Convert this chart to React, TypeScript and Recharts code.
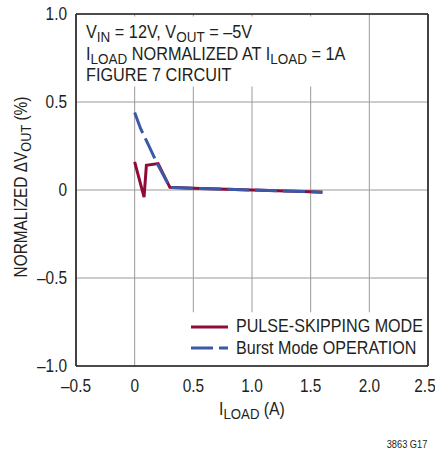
import React from 'react'
import { LineChart, Line, XAxis, YAxis, CartesianGrid, ReferenceArea, ReferenceLine, Legend } from 'recharts'

const xTicks = [-0.5, 0, 0.5, 1, 1.5, 2, 2.5]
const xTickLabels = ['–0.5', '0', '0.5', '1.0', '1.5', '2.0', '2.5']
const yTicks = [-1, -0.5, 0, 0.5, 1]
const yTickLabels = ['–1.0', '–0.5', '0', '0.5', '1.0']

const pulseLoad = [0, 0.08, 0.1, 0.2, 0.3, 0.5, 1.0, 1.5, 1.6]
const pulseDv = [0.16, -0.04, 0.14, 0.15, 0.015, 0.01, 0, -0.01, -0.013]
const burstLoad = [0, 0.05, 0.1, 0.2, 0.3, 0.5, 1.0, 1.5, 1.6]
const burstDv = [0.44, 0.35, 0.28, 0.14, 0.015, 0.01, 0, -0.01, -0.013]

const seriesNames = ['PULSE-SKIPPING MODE', 'Burst Mode OPERATION']

const pulseData = pulseLoad.map((x, i) => ({ x, y: pulseDv[i] }))
const burstData = burstLoad.map((x, i) => ({ x, y: burstDv[i] }))

// Liberation Sans squeezed sideways to look like the condensed face of the original
const FONT = '"Liberation Sans", Arial, sans-serif'
const INK = '#231f20'
const RED = '#8e0c36'
const BLUE = '#3c59a8'

// parts: plain strings, or [string] for a subscript
const CText = ({ x, y, size = 17.5, sub = 14.5, squeeze = 0.88, anchor = 'start', rotate = 0, parts }: any) => {
  let down = false
  return (
    <text transform={`translate(${x},${y}) rotate(${rotate}) scale(${squeeze},1)`} textAnchor={anchor}
      fontSize={size} fontFamily={FONT} fill={INK}>
      {parts.map((p: any, i: number) => {
        const isSub = Array.isArray(p)
        const dy = isSub === down ? 0 : isSub ? 4 : -4
        down = isSub
        return (
          <tspan key={i} dy={dy} fontSize={isSub ? sub : size}>
            {isSub ? p[0] : p}
          </tspan>
        )
      })}
    </text>
  )
}

const XTick = (props: any) => {
  const i = xTicks.indexOf(props.payload.value)
  return <CText x={props.x} y={props.y + 26} anchor="middle" parts={[xTickLabels[i]]} />
}

const YTick = (props: any) => {
  const i = yTicks.indexOf(props.payload.value)
  return <CText x={props.x - 9} y={props.y + 6} anchor="end" parts={[yTickLabels[i]]} />
}

const LegendBox = (props: any) => {
  const items = [...props.payload].sort((a: any, b: any) => seriesNames.indexOf(a.value) - seriesNames.indexOf(b.value))
  return (
    <div style={{ fontFamily: FONT, fontSize: 17.5, color: INK }}>
      {items.map((p: any) => (
        <div key={p.value} style={{ display: 'flex', alignItems: 'center', height: 21.6, whiteSpace: 'nowrap' }}>
          <svg width={45} height={8} style={{ flex: 'none' }}>
            <line x1={0} x2={37} y1={4} y2={4} stroke={p.color} strokeWidth={3}
              strokeDasharray={p.payload.strokeDasharray} />
          </svg>
          <span style={{ display: 'inline-block', lineHeight: '21px', transform: 'scaleX(0.92)', transformOrigin: 'left center' }}>
            {p.value}
          </span>
        </div>
      ))}
    </div>
  )
}

export default function App() {
  return (
    <div style={{ position: 'absolute', left: 0, top: 0, width: 435, height: 451, background: '#fff' }}>
      <LineChart width={435} height={451} margin={{ top: 14, right: 7, bottom: 55, left: 36 }}>
        <CartesianGrid stroke="#9a9a9a" strokeWidth={1} />
        <XAxis type="number" dataKey="x" domain={[-0.5, 2.5]} ticks={xTicks} allowDataOverflow
          axisLine={false} tickLine={false} tickSize={0} tickMargin={0} height={30} tick={<XTick />} />
        <YAxis type="number" dataKey="y" domain={[-1, 1]} ticks={yTicks} allowDataOverflow
          axisLine={false} tickLine={false} tickSize={0} tickMargin={0} width={40} tick={<YTick />} />
        <ReferenceArea x1={-0.49} x2={1.98} y1={0.588} y2={0.986} fill="#fff" fillOpacity={1} stroke="none" />
        <ReferenceArea x1={0.47} x2={2.49} y1={-0.995} y2={-0.695} fill="#fff" fillOpacity={1} stroke="none" />
        <ReferenceLine x={-0.5} stroke={INK} strokeWidth={1.6} />
        <ReferenceLine x={2.5} stroke={INK} strokeWidth={1.6} />
        <ReferenceLine y={-1} stroke={INK} strokeWidth={1.6} />
        <ReferenceLine y={1} stroke={INK} strokeWidth={1.6} />
        <Line data={pulseData} dataKey="y" name={seriesNames[0]} type="linear" stroke={RED}
          strokeWidth={3} dot={false} isAnimationActive={false} />
        <Line data={burstData} dataKey="y" name={seriesNames[1]} type="linear" stroke={BLUE}
          strokeWidth={3} strokeDasharray="22 6" dot={false} isAnimationActive={false} />
        <Legend content={<LegendBox />} layout="vertical" align="center" verticalAlign="middle"
          wrapperStyle={{ position: 'absolute', left: 191, top: 316, width: 240 }} />
      </LineChart>
      <svg width={435} height={451} style={{ position: 'absolute', left: 0, top: 0, pointerEvents: 'none' }}>
        <CText x={86} y={38} squeeze={0.93} parts={['V', ['IN'], ' = 12V, V', ['OUT'], ' = –5V']} />
        <CText x={86} y={60} squeeze={0.93} parts={['I', ['LOAD'], ' NORMALIZED AT I', ['LOAD'], ' = 1A']} />
        <CText x={86} y={81} squeeze={0.93} parts={['FIGURE 7 CIRCUIT']} />
        <CText x={252} y={415} size={18} sub={15} anchor="middle" parts={['I', ['LOAD'], ' (A)']} />
        <CText x={27} y={187} rotate={-90} anchor="middle" parts={['NORMALIZED ΔV', ['OUT'], ' (%)']} />
        <CText x={407} y={448} size={10.5} anchor="middle" parts={['3863 G17']} />
      </svg>
    </div>
  )
}
